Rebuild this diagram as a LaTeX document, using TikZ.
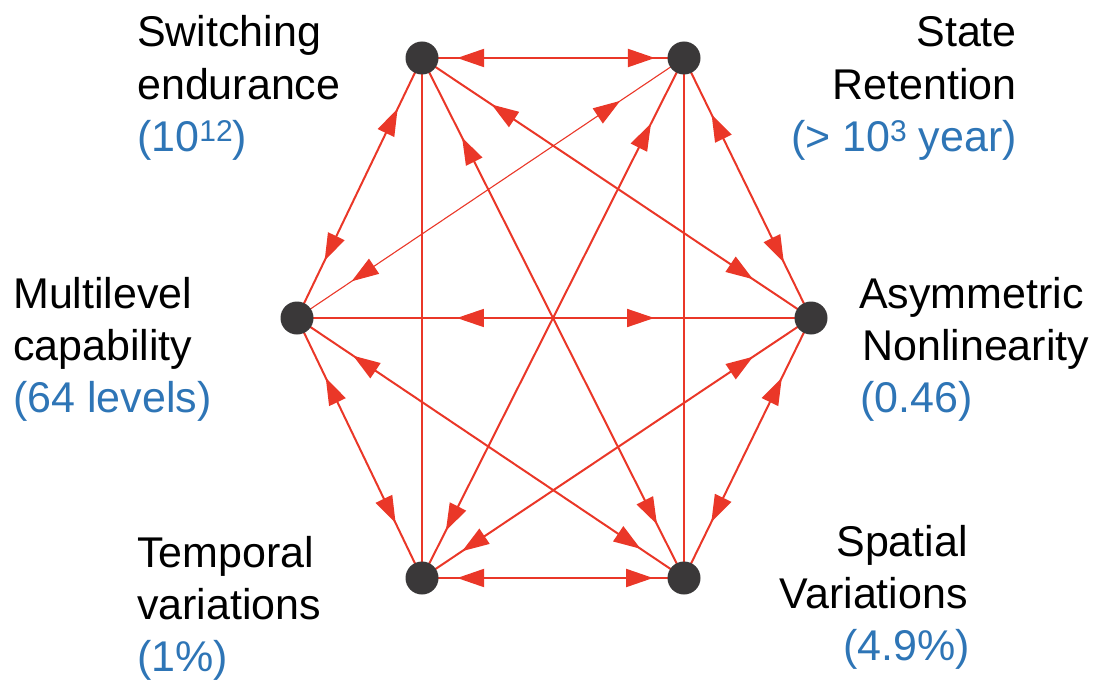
\documentclass[tikz,border=0pt]{standalone}
\usepackage{fontspec}
\setmainfont{Liberation Sans}
\usetikzlibrary{arrows.meta,decorations.markings}
\definecolor{edgered}{RGB}{234,55,40}
\definecolor{valblue}{RGB}{46,117,182}
\definecolor{dotgray}{RGB}{58,56,57}
\pgfdeclarelayer{bg}
\pgfsetlayers{bg,main}
\newcommand{\supnum}[1]{\raisebox{10pt}{\fontsize{30}{30}\selectfont #1}}
\begin{document}
\begin{tikzpicture}[x=1pt,y=-1pt,
  dot/.style={circle,fill=dotgray,draw=none,minimum size=33pt,inner sep=0pt},
  edge/.style={draw=edgered,color=edgered,line width=2pt},
  thinedge/.style={draw=edgered,color=edgered,line width=1.1pt},
  midedge/.style={draw=edgered,color=edgered,line width=1.4pt},
  twoway/.style 2 args={postaction={decorate},decoration={markings,
    mark=at position #1 with {\arrowreversed{Triangle[length=27pt,width=18pt]}},
    mark=at position #2 with {\arrow{Triangle[length=27pt,width=18pt]}}}},
  lbl/.style={inner sep=0pt,font=\fontsize{43}{52}\selectfont,text=black},
  val/.style={lbl,text=valblue}
]
\useasboundingbox (0,0) rectangle (1100,682);

% dots
\node[dot] (TL) at (422,58) {};
\node[dot] (TR) at (684,58) {};
\node[dot] (L)  at (297,318) {};
\node[dot] (R)  at (811,318) {};
\node[dot] (BL) at (422,578) {};
\node[dot] (BR) at (684,578) {};

% connectors
\begin{pgfonlayer}{bg}
\draw[edge,twoway={0.134}{0.889}] (TL.center) -- (TR.center);
\draw[edge,twoway={0.134}{0.882}] (BL.center) -- (BR.center);
\draw[midedge,twoway={0.311}{0.695}] (L.center) -- (R.center);
\draw[edge,twoway={0.195}{0.779}] (TL.center) -- (L.center);
\draw[edge,twoway={0.23}{0.789}] (L.center) -- (BL.center);
\draw[edge,twoway={0.217}{0.786}] (TR.center) -- (R.center);
\draw[edge,twoway={0.23}{0.785}] (R.center) -- (BR.center);
\draw[edge,twoway={0.153}{0.897}] (TL.center) -- (BR.center);
\draw[edge,twoway={0.126}{0.909}] (TR.center) -- (BL.center);
\draw[edge,twoway={0.179}{0.851}] (TL.center) -- (R.center);
\draw[thinedge,twoway={0.165}{0.859}] (TR.center) -- (L.center);
\draw[edge,twoway={0.145}{0.888}] (L.center) -- (BR.center);
\draw[edge,twoway={0.149}{0.897}] (R.center) -- (BL.center);
\draw[edge] (TL.center) -- (BL.center);
\draw[edge] (TR.center) -- (BR.center);
\end{pgfonlayer}

% labels
\node[lbl,anchor=base west] (sw1) at (137,47) {Switching};
\node[lbl,anchor=base west] (sw2) at (137,100) {endurance};
\node[val,anchor=base west] (sw3) at (137,152) {(10\supnum{12})};

\node[lbl,anchor=base east] (st1) at (1017,47) {State};
\node[lbl,anchor=base east] (st2) at (1017,100) {Retention};
\node[val,anchor=base east] (st3) at (1017,152) {(> 10\supnum{3} year)};

\node[lbl,anchor=base west] (ml1) at (13,308) {Multilevel};
\node[lbl,anchor=base west] (ml2) at (13,360) {capability};
\node[val,anchor=base west] (ml3) at (13,412) {(64 levels)};

\node[lbl,anchor=base west] (as1) at (859,308) {Asymmetric};
\node[lbl,anchor=base west] (as2) at (862,360) {Nonlinearity};
\node[val,anchor=base west] (as3) at (860,412) {(0.46)};

\node[lbl,anchor=base west] (tv1) at (137,567) {Temporal};
\node[lbl,anchor=base west] (tv2) at (137,619) {variations};
\node[val,anchor=base west] (tv3) at (137,671) {(1\%)};

\node[lbl,anchor=base east] (sv1) at (968,556) {Spatial};
\node[lbl,anchor=base east] (sv2) at (968,608) {Variations};
\node[val,anchor=base east] (sv3) at (970,660) {(4.9\%)};
\end{tikzpicture}
\end{document}
